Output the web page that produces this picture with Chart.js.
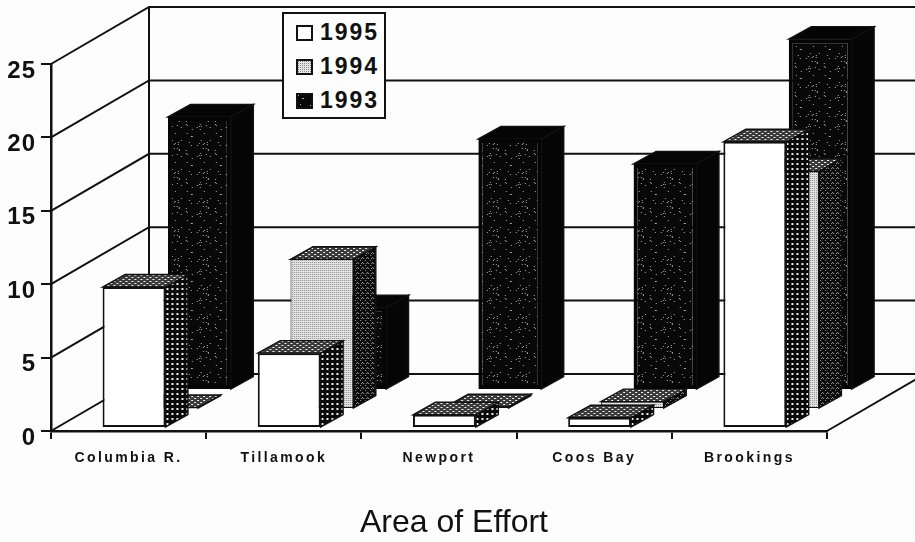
<!DOCTYPE html>
<html>
<head>
<meta charset="utf-8">
<title>Area of Effort</title>
<script src="https://cdn.jsdelivr.net/npm/chart.js@4/dist/chart.umd.min.js"></script>
<style>
  html, body { margin: 0; padding: 0; background: #fdfdfd; }
  .wrap { position: relative; width: 915px; height: 542px; overflow: hidden; filter: blur(0.45px); }
  canvas { display: block; }
  .legend {
    position: absolute; left: 282px; top: 12px; width: 100px; height: 103px;
    border: 2px solid #111; background: #fdfdfd;
    font: bold 23px "Liberation Sans", Arial, sans-serif; letter-spacing: 2px; color: #111;
  }
  .legend div { position: absolute; left: 12px; height: 26px; line-height: 26px; white-space: nowrap; }
  .legend span {
    display: inline-block; width: 13px; height: 12px; border: 2px solid #111;
    margin-right: 7px; vertical-align: -1px;
  }
</style>
</head>
<body>
<div class="wrap">
  <canvas id="chart" width="915" height="542"></canvas>
  <div class="legend" id="legend"></div>
</div>
<script>
const areas = ['Columbia R.', 'Tillamook', 'Newport', 'Coos Bay', 'Brookings'];
const years = ['1995', '1994', '1993'];
const values1995 = [9.6, 5.1, 0.9, 0.7, 19.5];
const values1994 = [0.1, 10.2, 0.15, 0.5, 16.2];
const values1993 = [18.6, 5.6, 17.1, 15.4, 23.9];
const valueTicks = [0, 5, 10, 15, 20, 25];
const axisTitle = 'Area of Effort';

// 3d look: how far the back wall sits from the front plane, and each row inside it
const wallDx = 98, wallDy = 57;
const rowDx = 32.7, rowDy = 19, rowStartDx = 5.4, rowStartDy = 3;
const barDx = 22.5, barDy = 12.5;
const ink = '#111';

// small canvas tile, used both for chart patterns and the legend swatches
function makeTile(w, h, bg, fg, dots) {
    const c = document.createElement('canvas');
    c.width = w;
    c.height = h;
    const x = c.getContext('2d');
    x.fillStyle = bg;
    x.fillRect(0, 0, w, h);
    x.fillStyle = fg;
    dots.forEach(d => x.fillRect(d[0], d[1], d[2] || 1, d[3] || 1));
    return c;
}

function speckle(size, count) {
    const dots = [];
    for (let i = 0; i < count; i++) {
        dots.push([(i * 11 + i * i * 3) % size, (i * 17 + i * i * 5) % size]);
    }
    return dots;
}

const tileTop = makeTile(6, 4, '#3a3a3a', '#f4f4f4', [[0, 0, 2, 1], [3, 2, 2, 1]]);
const tileDots = makeTile(5, 5, '#0a0a0a', '#f2f2f2', [[1, 1, 2, 2]]);
const tileLight = makeTile(4, 4, '#e4e4e4', '#8a8a8a', [[0, 0], [2, 2], [2, 0], [0, 2]]);
const tileDark = makeTile(5, 5, '#0a0a0a', '#9a9a9a', [[0, 0], [2, 2], [4, 4], [3, 0]]);
const tileSpeck = makeTile(29, 29, '#080808', '#a8a8a8', speckle(29, 30));

const ctx = document.getElementById('chart').getContext('2d');
const pat = tile => ctx.createPattern(tile, 'repeat');

const fronts = ['#ffffff', pat(tileLight), pat(tileSpeck)];
const sides = [pat(tileDots), pat(tileDark), '#050505'];
const tops = [pat(tileTop), pat(tileTop), '#050505'];

function rowOffset(index) {
    return { dx: rowStartDx + rowDx * index, dy: rowStartDy + rowDy * index };
}

function poly(c, pts, fill) {
    c.beginPath();
    pts.forEach((p, i) => i ? c.lineTo(p[0], p[1]) : c.moveTo(p[0], p[1]));
    c.closePath();
    c.fillStyle = fill;
    c.fill();
    c.lineWidth = 1.4;
    c.strokeStyle = ink;
    c.stroke();
}

const wallsPlugin = {
    id: 'walls',
    beforeDatasetsDraw(chart) {
        const c = chart.ctx, area = chart.chartArea, y = chart.scales.y;
        c.save();
        c.strokeStyle = ink;
        c.lineWidth = 2;
        c.beginPath();
        valueTicks.forEach(v => {
            const py = y.getPixelForValue(v);
            c.moveTo(area.left, py);
            c.lineTo(area.left + wallDx, py - wallDy);
            c.lineTo(area.right + wallDx, py - wallDy);
        });
        c.moveTo(area.left + wallDx, y.getPixelForValue(0) - wallDy);
        c.lineTo(area.left + wallDx, y.getPixelForValue(25) - wallDy);
        c.moveTo(area.right, y.getPixelForValue(0));
        c.lineTo(area.right + wallDx, y.getPixelForValue(0) - wallDy);
        c.stroke();
        c.restore();
    }
};

// each row is shifted back, the library draws the front faces, we add top and side
const depthPlugin = {
    id: 'depth',
    beforeDatasetDraw(chart, args) {
        const c = chart.ctx, off = rowOffset(args.index);
        c.save();
        c.translate(off.dx, -off.dy);
        args.meta.data.forEach(bar => {
            const b = bar.getProps(['x', 'y', 'base', 'width'], true);
            const l = b.x - b.width / 2, r = b.x + b.width / 2;
            poly(c, [[r, b.y], [r + barDx, b.y - barDy], [r + barDx, b.base - barDy], [r, b.base]], sides[args.index]);
            poly(c, [[l, b.y], [l + barDx, b.y - barDy], [r + barDx, b.y - barDy], [r, b.y]], tops[args.index]);
        });
    },
    afterDatasetDraw(chart) {
        chart.ctx.restore();
    }
};

// the originals have spaced out axis labels
const labelSpacing = { x: '2.4px', y: '1px' };
const spacingPlugin = {
    id: 'spacing',
    afterLayout(chart) {
        Object.keys(labelSpacing).forEach(id => {
            const s = chart.scales[id];
            if (s._spaced) return;
            const draw = s.drawLabels;
            s.drawLabels = function (a) {
                const c = chart.ctx;
                c.letterSpacing = labelSpacing[id];
                draw.call(this, a);
                c.letterSpacing = '0px';
            };
            s._spaced = true;
        });
    }
};

new Chart(ctx, {
    type: 'bar',
    data: {
        labels: areas,
        datasets: [
            { label: years[0], data: values1995, backgroundColor: fronts[0], borderColor: ink, borderWidth: 2 },
            { label: years[1], data: values1994, backgroundColor: fronts[1], borderColor: ink, borderWidth: 1 },
            { label: years[2], data: values1993, backgroundColor: fronts[2], borderColor: '#050505', borderWidth: 4 },
        ]
    },
    options: {
        responsive: false,
        animation: false,
        events: [],
        layout: { padding: { top: 64, right: 7, left: 0, bottom: 0 } },
        datasets: {
            bar: { grouped: false, barPercentage: 0.405, categoryPercentage: 1, borderSkipped: false, clip: false }
        },
        scales: {
            x: {
                grid: { offset: true, drawOnChartArea: false, drawTicks: true, tickLength: 8, color: ink, lineWidth: 2 },
                border: { color: ink, width: 2.5 },
                ticks: {
                    color: ink, padding: 11, maxRotation: 0, autoSkip: false,
                    font: { family: '"Liberation Sans", Arial, sans-serif', size: 14, weight: 'bold' }
                },
                afterFit(s) { s.height = 72.6; s.paddingLeft = 0; s.paddingRight = 0; }
            },
            y: {
                min: 0,
                max: 25,
                afterBuildTicks(s) { s.ticks = valueTicks.map(v => ({ value: v })); },
                grid: { drawOnChartArea: false, drawTicks: true, tickLength: 10, color: ink, lineWidth: 2 },
                border: { color: ink, width: 2.5 },
                ticks: {
                    color: ink, padding: 5, labelOffset: 7,
                    font: { family: '"Liberation Sans", Arial, sans-serif', size: 24, weight: 'bold' }
                },
                afterFit(s) { s.width = 51; s.paddingTop = 0; s.paddingBottom = 0; }
            },
            // empty axis, only keeps the room for the floor and back wall on the right
            room: {
                axis: 'y', position: 'right', min: 0, max: 1,
                grid: { display: false }, border: { display: false }, ticks: { display: false },
                afterFit(s) { s.width = 81; s.paddingTop = 0; s.paddingBottom = 0; }
            }
        },
        plugins: {
            legend: { display: false },
            tooltip: { enabled: false },
            title: {
                display: true,
                text: axisTitle,
                position: 'bottom',
                color: ink,
                padding: 0,
                font: { family: '"Liberation Sans", Arial, sans-serif', size: 32, weight: 'normal' }
            }
        }
    },
    plugins: [wallsPlugin, depthPlugin, spacingPlugin]
});

// legend is plain html over the canvas, it hides the grid line behind it
const legendTiles = [makeTile(1, 1, '#fff', '#fff', []), tileLight, tileSpeck];
const legend = document.getElementById('legend');
years.forEach((year, i) => {
    const row = document.createElement('div');
    row.style.top = (5 + i * 34) + 'px';
    const box = document.createElement('span');
    box.style.backgroundImage = 'url(' + legendTiles[i].toDataURL() + ')';
    row.appendChild(box);
    row.appendChild(document.createTextNode(year));
    legend.appendChild(row);
});
</script>
</body>
</html>
